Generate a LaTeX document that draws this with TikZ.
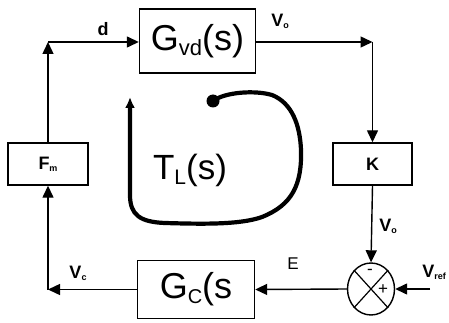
\documentclass[tikz,border=0pt]{standalone}
\usepackage{fontspec}
\setmainfont{Liberation Sans}
\usetikzlibrary{arrows.meta,shapes.geometric}
\newcommand\bigfs{\fontsize{36}{38}\selectfont}
\newcommand\smfs{\bfseries\fontsize{18}{20}\selectfont}
\newcommand\mysub[3]{\raisebox{#1}{\fontsize{#2}{#2}\selectfont #3}}
\begin{document}
\begin{tikzpicture}[x=1pt,y=-1pt,
  blk/.style={draw, line width=1.4pt, inner sep=0pt, rectangle},
  sig/.style={line width=1.4pt, -{Triangle[length=12pt,width=11pt]}},
  lbl/.style={inner sep=0pt, font=\smfs},
  loopline/.style={line width=4.2pt, line cap=round, -{Latex[length=11pt,width=10pt]}}
]
\useasboundingbox (0,0) rectangle (449,323);
% blocks
\node[blk, minimum width=116pt, minimum height=64pt] (gvd) at (197.5,41) {\bigfs G\mysub{-5pt}{22}{vd}(s)};
\node[blk, minimum width=80pt, minimum height=42pt] (fm) at (48,164) {\smfs F\mysub{-2pt}{9}{m}};
\node[blk, minimum width=79pt, minimum height=42pt] (k) at (372.5,164) {\smfs K};
\node[blk, minimum width=117pt, minimum height=58pt] (gc) at (196,289.5) {\bigfs G\mysub{-5pt}{20}{C}(s};
\node[draw, ellipse, line width=1.4pt, minimum width=47pt, minimum height=52pt, inner sep=0pt] (sum) at (371,289) {};
\draw[line width=1.2pt] (sum.north east) -- (sum.south west);
\draw[line width=1.2pt] (sum.north west) -- (sum.south east);
\node[inner sep=0pt, font=\fontsize{17}{17}\selectfont] (minus) at (370,272) {-};
\node[inner sep=0pt, font=\fontsize{17}{17}\selectfont] (plus) at (383,290) {+};
% corner points
\coordinate (tl) at (48,42);
\coordinate (tr) at (372.5,42);
\coordinate (bl) at (48,289.5);
\coordinate (vr) at (430,289);
% connectors
\draw[sig] (fm.north) -- (tl);
\draw[sig] (tl) -- (gvd.west |- tl);
\draw[sig] (gvd.east |- tr) -- (tr);
\draw[sig] (tr) -- (k.north);
\draw[sig] (k.south) -- (sum.north);
\draw[sig] (vr) -- (sum.east);
\draw[sig] (sum.west) -- (gc.east);
\draw[sig] (gc.west) -- (bl);
\draw[sig] (bl) -- (fm.south);
% labels
\node[lbl] (ld) at (103,29) {d};
\node[lbl] (lvo1) at (280,21) {V\mysub{-2pt}{9}{o}};
\node[lbl] (lvo2) at (388,226) {V\mysub{-2pt}{9}{o}};
\node[inner sep=0pt, font=\fontsize{17}{17}\selectfont] (le) at (293,264) {E};
\node[lbl] (lvref) at (434,272) {V\mysub{-2pt}{9}{ref}};
\node[lbl] (lvc) at (78,273) {V\mysub{-2pt}{9}{c}};
% loop gain
\node[inner sep=0pt] (tl2) at (190,170) {\fontsize{35}{37}\selectfont T\mysub{-5pt}{21}{L}(s)};
\coordinate (dotc) at (213,101);
\fill (dotc) circle (6.5pt);
\draw[loopline] (dotc) .. controls (225,92) and (255,90) .. (272,95)
  .. controls (292,103) and (300,125) .. (301,150)
  .. controls (302,185) and (292,205) .. (262,217)
  .. controls (240,225) and (200,224) .. (165,223)
  .. controls (140,222) and (130,215) .. (130,195) -- (130,97);
\end{tikzpicture}
\end{document}
